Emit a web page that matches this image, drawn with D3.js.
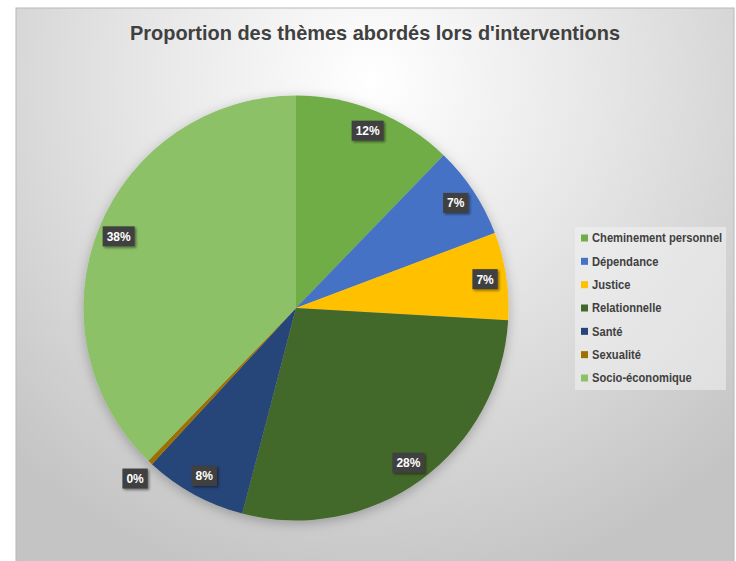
<!DOCTYPE html>
<html><head><meta charset="utf-8">
<title>Proportion des thèmes</title>
<script src="https://cdn.jsdelivr.net/npm/d3@7"></script>
<style>
body { margin: 0; background: #fff; font-family: "Liberation Sans", Arial, sans-serif; }
svg { display: block; }
</style>
</head>
<body>
<svg id="chart" width="736" height="561"></svg>
<script>
// data
const categories = ["Cheminement personnel", "Dépendance", "Justice", "Relationnelle", "Santé", "Sexualité", "Socio-économique"];
const values = [33, 19, 18, 76, 21, 1, 102];
const colors = ["#70ad47", "#4472c4", "#ffc000", "#43682b", "#264478", "#9e7000", "#8cc168"];
const title = "Proportion des thèmes abordés lors d'interventions";

const svg = d3.select("#chart");
const defs = svg.append("defs");

// background gradient like the office chart style
const grad = defs.append("radialGradient").attr("id", "bg")
    .attr("gradientUnits", "userSpaceOnUse")
    .attr("cx", 372).attr("cy", 80).attr("r", 520);
grad.append("stop").attr("offset", "0%").attr("stop-color", "#ffffff");
grad.append("stop").attr("offset", "45%").attr("stop-color", "#e6e6e6");
grad.append("stop").attr("offset", "100%").attr("stop-color", "#c4c4c4");

const shadow = defs.append("filter").attr("id", "sh").attr("x", "-30%").attr("y", "-30%").attr("width", "160%").attr("height", "160%");
shadow.append("feDropShadow").attr("dx", 1.5).attr("dy", 1.5).attr("stdDeviation", 1.2).attr("flood-color", "#000").attr("flood-opacity", 0.45);

const pieShadow = defs.append("filter").attr("id", "psh").attr("x", "-20%").attr("y", "-20%").attr("width", "140%").attr("height", "140%");
pieShadow.append("feDropShadow").attr("dx", 0).attr("dy", 3).attr("stdDeviation", 6).attr("flood-color", "#000").attr("flood-opacity", 0.25);

svg.append("rect").attr("x", 16).attr("y", 8).attr("width", 718).attr("height", 560)
    .attr("fill", "url(#bg)").attr("stroke", "#b8b8b8").attr("stroke-width", 1);

// title
const t = svg.append("text").attr("x", 375).attr("y", 40)
    .attr("text-anchor", "middle")
    .attr("font-size", 21).attr("font-weight", "bold").attr("fill", "#404040")
    .text(title);
t.attr("textLength", 490).attr("lengthAdjust", "spacingAndGlyphs");

// pie
const cx = 296, cy = 308, R = 212.5;
const total = d3.sum(values);
const pie = d3.pie().sort(null).value(d => d.v);
const arcs = pie(categories.map((c, i) => ({ c, v: values[i], col: colors[i] })));
const arc = d3.arc().innerRadius(0).outerRadius(R);

const g = svg.append("g").attr("transform", `translate(${cx},${cy})`);
g.append("g").attr("filter", "url(#psh)")
  .selectAll("path").data(arcs).join("path")
    .attr("d", arc)
    .attr("fill", d => d.data.col);

// labels
const fmt = d => Math.round(d.data.v / total * 100) + "%";
arcs.forEach(d => {
    const small = d.data.v / total < 0.01;
    const r = small ? R + 22 : R * 0.9;
    const a = (d.startAngle + d.endAngle) / 2;
    const x = Math.sin(a) * r, y = -Math.cos(a) * r;
    const lg = g.append("g").attr("transform", `translate(${x},${y})`);
    const txt = lg.append("text").attr("text-anchor", "middle").attr("dy", "0.36em")
        .attr("font-size", 12).attr("font-weight", "bold").attr("fill", "#fff")
        .text(fmt(d));
    const w = txt.node().getComputedTextLength() + 8;
    lg.insert("rect", "text").attr("x", -w / 2).attr("y", -10).attr("width", w).attr("height", 20)
        .attr("fill", "#404040").attr("filter", "url(#sh)");
});

// legend
const lgX = 575, lgY = 227;
svg.append("rect").attr("x", lgX).attr("y", lgY).attr("width", 151).attr("height", 163)
    .attr("fill", "#f2f2f2").attr("fill-opacity", 0.55);
const row = d3.scalePoint().domain(categories).range([lgY + 11, lgY + 151]);
const items = svg.append("g").selectAll("g").data(categories).join("g")
    .attr("transform", d => `translate(${lgX + 6},${row(d)})`);
items.append("rect").attr("x", 0).attr("y", -3.5).attr("width", 7).attr("height", 7)
    .attr("fill", (d, i) => colors[i]);
items.append("text").attr("x", 11).attr("dy", "0.35em")
    .attr("font-size", 12).attr("fill", "#404040").attr("font-weight", "bold")
    .attr("textLength", d => null)
    .text(d => d);
items.select("text").each(function() {
    // legend text is set slightly condensed
    const w = this.getComputedTextLength();
    d3.select(this).attr("textLength", w * 0.93).attr("lengthAdjust", "spacingAndGlyphs");
});
</script>
</body></html>
